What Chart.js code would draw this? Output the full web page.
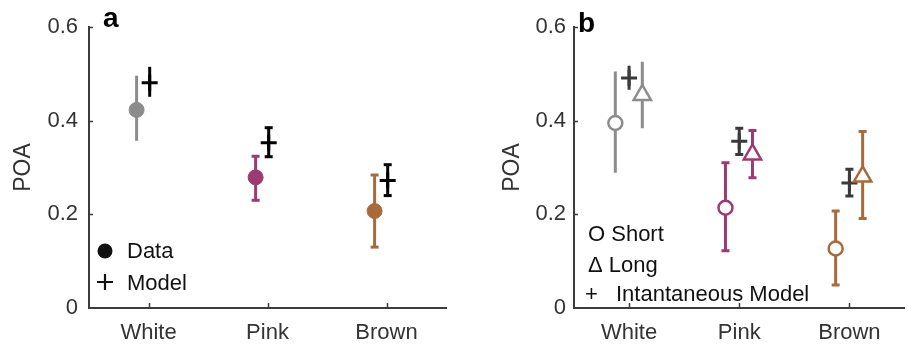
<!DOCTYPE html>
<html>
<head>
<meta charset="utf-8">
<script src="https://cdn.jsdelivr.net/npm/chart.js"></script>
<style>
  html, body { margin: 0; padding: 0; background: #fff; overflow: hidden; }
  #wrap { position: relative; width: 914px; height: 348px; overflow: hidden; }
  #chartA { position: absolute; left: 0; top: 0; }
  #chartB { position: absolute; left: 457px; top: 0; }
</style>
</head>
<body>
<div id="wrap">
  <canvas id="chartA" width="457" height="348"></canvas>
  <canvas id="chartB" width="460" height="348"></canvas>
</div>
<script>
var categories = ["White", "Pink", "Brown"];
var groupColors = ["#8c8c8c", "#9e3a73", "#a96a3b"];
var yTicks = [0, 0.2, 0.4, 0.6];

// panel a: measured data vs model
var dataMean = [0.423, 0.279, 0.207];
var dataLow = [0.357, 0.230, 0.130];
var dataHigh = [0.496, 0.324, 0.284];
var modelMean = [0.481, 0.353, 0.272];
var modelLow = [0.451, 0.323, 0.240];
var modelHigh = [0.515, 0.385, 0.306];

// panel b: short / long / instantaneous model
var shortMean = [0.395, 0.214, 0.127];
var shortLow = [0.289, 0.122, 0.049];
var shortHigh = [0.505, 0.310, 0.207];
var longMean = [0.455, 0.328, 0.281];
var longLow = [0.384, 0.278, 0.191];
var longHigh = [0.526, 0.379, 0.377];
var instMean = [0.491, 0.356, 0.267];
var instLow = [0.466, 0.328, 0.239];
var instHigh = [0.517, 0.384, 0.296];

Chart.defaults.font.family = "'Liberation Sans', Arial, sans-serif";
Chart.defaults.animation = false;

var FONT = "'Liberation Sans', Arial, sans-serif";

// one vertical segment per category; white bars are drawn without caps
function errorBars(low, high, shift, colors) {
  return low.map(function (lo, i) {
    var col = Array.isArray(colors) ? colors[i] : colors;
    var x = i + 1 + shift;
    return {
      type: "line",
      data: [{ x: x, y: lo }, { x: x, y: high[i] }],
      borderColor: col,
      borderWidth: 3,
      showLine: true,
      pointStyle: "line",
      pointRadius: i === 0 ? 0 : 4,
      pointBorderWidth: 3,
      pointBorderColor: col,
      order: 2
    };
  });
}

function markers(mean, shift, style) {
  return Object.assign({
    type: "scatter",
    data: mean.map(function (m, i) { return { x: i + 1 + shift, y: m }; }),
    showLine: false,
    order: 1
  }, style);
}

function scalesFor(yWidth, labelPad, titlePad) {
  return {
    x: {
      type: "linear",
      min: 0.5,
      max: 3.5,
      afterBuildTicks: function (s) {
        s.ticks = categories.map(function (c, i) { return { value: i + 1 }; });
      },
      afterFit: function (s) { s.height = 40; },
      ticks: {
        callback: function (v) { return categories[v - 1]; },
        padding: 12,
        color: "#333",
        font: { size: 22 },
        maxRotation: 0,
        autoSkip: false
      },
      grid: { display: false, drawTicks: false },
      border: { color: "#3c3c3c", width: 2 }
    },
    y: {
      type: "linear",
      min: 0,
      max: 0.6,
      afterBuildTicks: function (s) {
        s.ticks = yTicks.map(function (v) { return { value: v }; });
      },
      afterFit: function (s) { s.width = yWidth; },
      ticks: {
        callback: function (v) { return v === 0 ? "0" : v.toFixed(1); },
        padding: labelPad,
        color: "#333",
        font: { size: 22 }
      },
      title: {
        display: true,
        text: "POA",
        color: "#333",
        font: { size: 23 },
        padding: { top: titlePad, bottom: 0 }
      },
      grid: { display: false, drawTicks: false },
      border: { color: "#3c3c3c", width: 2 }
    }
  };
}

// inward ticks, panel letter and the hand-placed legend
function decor(letter, letterX, letterY, legend) {
  return {
    id: "decor" + letter,
    afterDraw: function (chart) {
      var c = chart.ctx, a = chart.chartArea;
      var xs = chart.scales.x, ys = chart.scales.y;
      c.save();
      c.strokeStyle = "#3c3c3c";
      c.lineWidth = 1.5;
      c.beginPath();
      yTicks.forEach(function (v) {
        if (v === 0) return;
        var py = Math.round(ys.getPixelForValue(v)) + 0.5;
        c.moveTo(a.left, py);
        c.lineTo(a.left + 4, py);
      });
      categories.forEach(function (cat, i) {
        var px = Math.round(xs.getPixelForValue(i + 1)) + 0.5;
        c.moveTo(px, a.bottom);
        c.lineTo(px, a.bottom - 5);
      });
      c.stroke();

      c.fillStyle = "#000";
      c.font = "bold 28px " + FONT;
      c.textBaseline = "alphabetic";
      c.textAlign = "left";
      c.fillText(letter, a.left + letterX, a.top + letterY);

      legend(c, a);
      c.restore();
    }
  };
}

function legendA(c, a) {
  var cx = a.left + 16;
  c.fillStyle = "#111";
  c.strokeStyle = "#111";
  c.beginPath();
  c.arc(cx, a.bottom - 57, 7.5, 0, Math.PI * 2);
  c.fill();
  c.lineWidth = 2.2;
  c.beginPath();
  c.moveTo(cx - 8, a.bottom - 26);
  c.lineTo(cx + 8, a.bottom - 26);
  c.moveTo(cx, a.bottom - 34);
  c.lineTo(cx, a.bottom - 18);
  c.stroke();
  c.font = "22px " + FONT;
  c.textBaseline = "alphabetic";
  c.fillText("Data", a.left + 38, a.bottom - 50);
  c.fillText("Model", a.left + 38, a.bottom - 18);
}

function legendB(c, a) {
  c.fillStyle = "#111";
  c.font = "22px " + FONT;
  c.textBaseline = "alphabetic";
  c.fillText("O Short", a.left + 14, a.bottom - 67);
  c.fillText("\u0394 Long", a.left + 14, a.bottom - 36);
  c.fillText("+", a.left + 11, a.bottom - 7);
  c.fillText("Intantaneous Model", a.left + 42, a.bottom - 7);
}

new Chart(document.getElementById("chartA"), {
  type: "scatter",
  data: {
    datasets: [
      markers(dataMean, -0.1, {
        pointStyle: "circle",
        pointRadius: 7.5,
        pointBackgroundColor: groupColors,
        pointBorderColor: groupColors,
        pointBorderWidth: 1
      }),
      markers(modelMean, 0.01, {
        pointStyle: "cross",
        pointRadius: 8,
        pointBorderColor: "#000",
        pointBorderWidth: 3
      })
    ].concat(errorBars(dataLow, dataHigh, -0.1, groupColors))
     .concat(errorBars(modelLow, modelHigh, 0.01, "#000"))
  },
  options: {
    responsive: false,
    layout: { padding: { left: 0, right: 6, top: 27, bottom: 0 } },
    plugins: { legend: { display: false }, tooltip: { enabled: false } },
    scales: scalesFor(89, 11, 10)
  },
  plugins: [decor("a", 14, 0, legendA)]
});

new Chart(document.getElementById("chartB"), {
  type: "scatter",
  data: {
    datasets: [
      markers(shortMean, -0.125, {
        pointStyle: "circle",
        pointRadius: 7,
        pointBackgroundColor: "#fff",
        pointBorderColor: groupColors,
        pointBorderWidth: 2.5
      }),
      markers(longMean, 0.12, {
        pointStyle: "triangle",
        pointRadius: 10,
        pointBackgroundColor: "#fff",
        pointBorderColor: groupColors,
        pointBorderWidth: 2.5
      }),
      markers(instMean, 0, {
        pointStyle: "cross",
        pointRadius: 8,
        pointBorderColor: "#3a3a3a",
        pointBorderWidth: 3
      })
    ].concat(errorBars(shortLow, shortHigh, -0.125, groupColors))
     .concat(errorBars(longLow, longHigh, 0.12, groupColors))
     .concat(errorBars(instLow, instHigh, 0, "#3a3a3a"))
  },
  options: {
    responsive: false,
    layout: { padding: { left: 0, right: 0, top: 27, bottom: 0 } },
    plugins: { legend: { display: false }, tooltip: { enabled: false } },
    scales: scalesFor(117, 8, 42)
  },
  plugins: [decor("b", 4, 5, legendB)]
});
</script>
</body>
</html>
